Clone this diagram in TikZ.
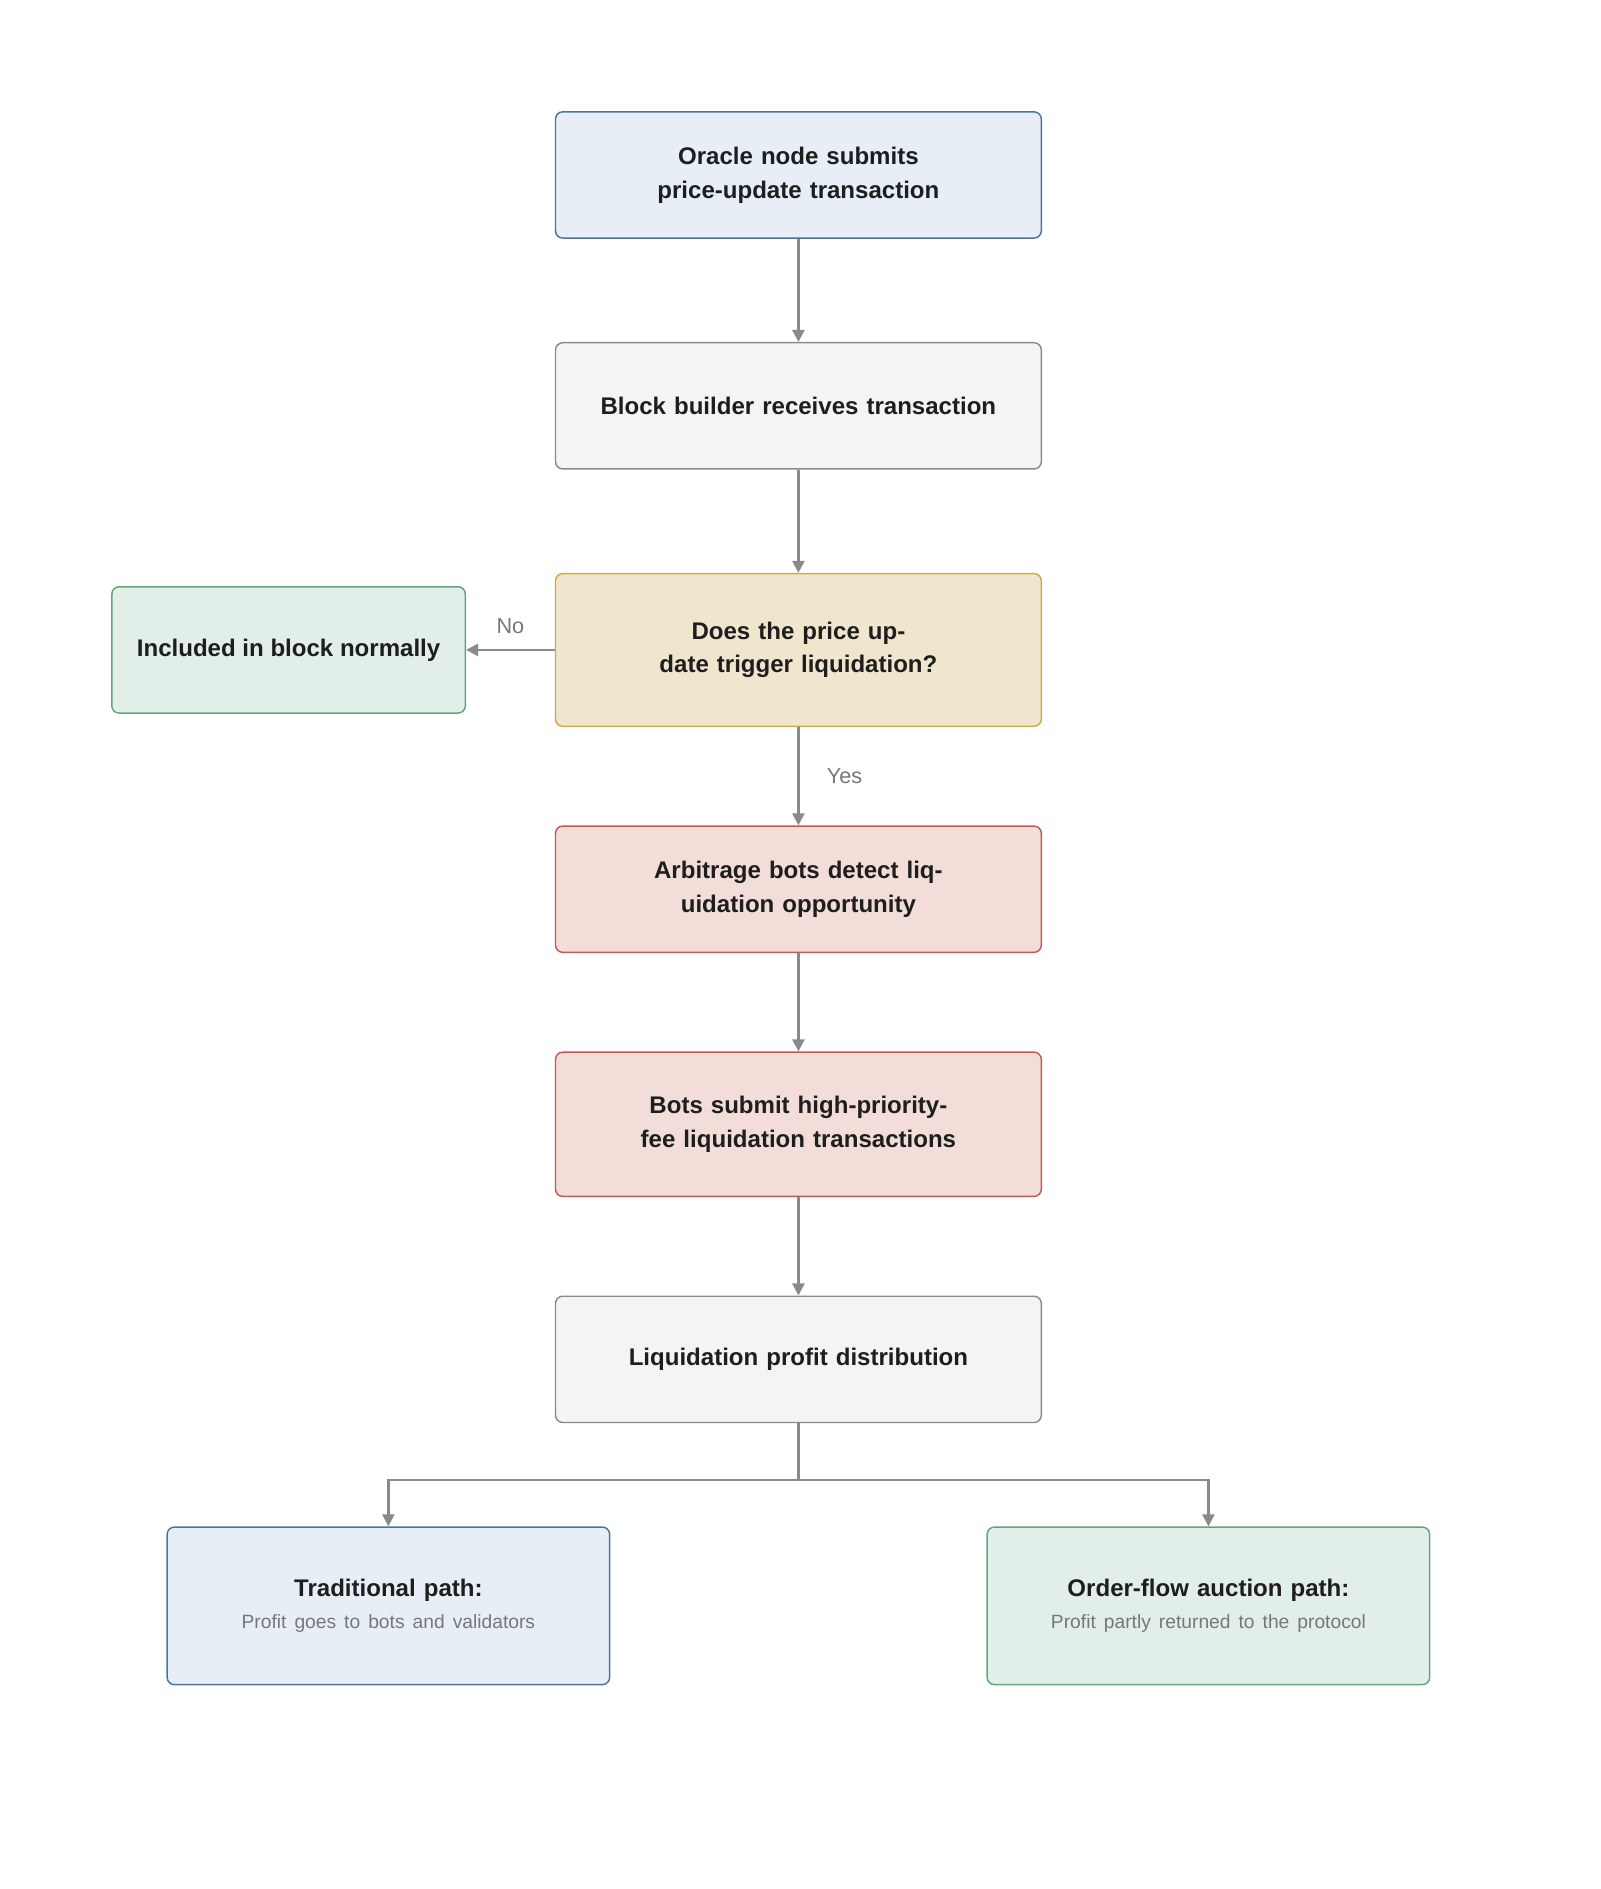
\documentclass[tikz,border=0pt]{standalone}
\usepackage{fontspec}
\setmainfont{Liberation Sans}
\usetikzlibrary{arrows.meta}
\definecolor{bluefill}{HTML}{E8EEF6}\definecolor{blueline}{HTML}{4F729E}
\definecolor{grayfill}{HTML}{F3F4F6}\definecolor{grayline}{HTML}{8A8A8A}
\definecolor{yelfill}{HTML}{F0E6CE}\definecolor{yelline}{HTML}{D4A840}
\definecolor{redfill}{HTML}{F3DDD8}\definecolor{redline}{HTML}{C65A52}
\definecolor{grnfill}{HTML}{E2EFE8}\definecolor{grnline}{HTML}{62A57D}
\definecolor{txt}{HTML}{1E1E1E}\definecolor{sub}{HTML}{777777}
\tikzset{
  box/.style={draw, rounded corners=3pt, line width=0.6pt, align=center,
    font=\bfseries\fontsize{10}{14}\selectfont, text=txt, inner sep=0pt},
  stepbox/.style={box, minimum width=202pt, minimum height=52.5pt, text width=190pt},
  arr/.style={-{Triangle[length=5pt,width=5pt]}, draw=grayline, line width=1pt},
  lbl/.style={font=\fontsize{9}{11}\selectfont, text=sub}
}
\begin{document}
\begin{tikzpicture}[x=0.5pt,y=-0.5pt]
\useasboundingbox (0,0) rectangle (1331,1571);
\node[stepbox, fill=bluefill, draw=blueline] (oracle) at (664,145.5) {Oracle node submits price-update transaction};
\node[stepbox, fill=grayfill, draw=grayline] (builder) at (664,337.5) {Block builder receives transaction};
\node[stepbox, fill=yelfill, draw=yelline, minimum height=63.5pt] (trigger) at (664,540.5) {Does the price update trigger liquidation?};
\node[box, fill=grnfill, draw=grnline, minimum width=147pt, minimum height=52.5pt] (normal) at (240,540.5) {Included in block normally};
\node[stepbox, fill=redfill, draw=redline] (detect) at (664,739.5) {Arbitrage bots detect liquidation opportunity};
\node[stepbox, fill=redfill, draw=redline, minimum height=60pt] (submit) at (664,935) {Bots submit high-priority-fee liquidation transactions};
\node[stepbox, fill=grayfill, draw=grayline] (profit) at (664,1130.5) {Liquidation profit distribution};
\node[box, fill=bluefill, draw=blueline, minimum width=184pt, minimum height=65.5pt, text width=180pt] (trad) at (323,1335.5)
  {Traditional path:\\[-1pt]{\normalfont\fontsize{8}{12}\selectfont\color{sub}Profit goes to bots and validators}};
\node[box, fill=grnfill, draw=grnline, minimum width=184pt, minimum height=65.5pt, text width=180pt] (ofa) at (1005,1335.5)
  {Order-flow auction path:\\[-1pt]{\normalfont\fontsize{8}{12}\selectfont\color{sub}Profit partly returned to the protocol}};
\coordinate (split) at (664,1231);
\draw[arr] (oracle) -- (builder);
\draw[arr] (builder) -- (trigger);
\draw[arr] (trigger) -- node[lbl, above=3pt] {No} (normal);
\draw[arr] (trigger) -- node[lbl, right=8pt] {Yes} (detect);
\draw[arr] (detect) -- (submit);
\draw[arr] (submit) -- (profit);
\draw[draw=grayline, line width=1pt] (profit) -- (split);
\draw[arr] (split) -| (trad);
\draw[arr] (split) -| (ofa);
\end{tikzpicture}
\end{document}
